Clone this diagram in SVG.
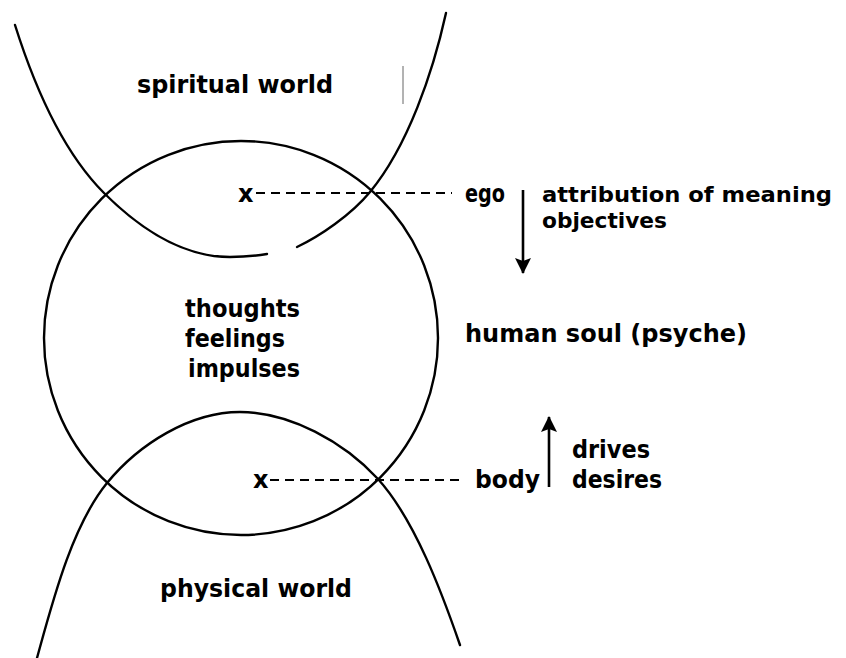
<svg xmlns="http://www.w3.org/2000/svg" width="846" height="658" viewBox="0 0 846 658">
<defs>
<style>
.curve{fill:none;stroke:#000;stroke-width:2.4;stroke-linecap:round}
.dash{fill:none;stroke:#000;stroke-width:2.2;stroke-dasharray:9 6}
.arrow{fill:none;stroke:#000;stroke-width:2.6}
text{font-family:"DejaVu Sans","Liberation Sans",sans-serif;font-weight:bold;fill:#000;font-size:24px}
.small{font-size:21px}
</style>
<marker id="head" viewBox="0 0 16 17" refX="15" refY="8.5" markerWidth="16" markerHeight="17" markerUnits="userSpaceOnUse" orient="auto">
<path d="M0,0.5 L16,8.5 L0,16.5 L3,8.5 Z" fill="#000"/>
</marker>
</defs>
<rect width="846" height="658" fill="#fff"/>

<g id="spiritual-world">
<path class="curve" d="M15,25 C33,82 62,151 104,193 C136,225 180,257 230,257 C245,257 255,256 267,254"/>
<path class="curve" d="M297,247 C320,236 351,215 370,192 C408,146 433,72 446,13"/>
<text x="137" y="93" textLength="196" lengthAdjust="spacingAndGlyphs">spiritual world</text>
</g>

<g id="human-soul">
<circle class="curve" cx="241" cy="338" r="197"/>
<text x="185" y="317" textLength="115" lengthAdjust="spacingAndGlyphs">thoughts</text>
<text x="185" y="347" textLength="100" lengthAdjust="spacingAndGlyphs">feelings</text>
<text x="188" y="377" textLength="112" lengthAdjust="spacingAndGlyphs">impulses</text>
<text x="465" y="342" textLength="282" lengthAdjust="spacingAndGlyphs">human soul (psyche)</text>
</g>

<g id="physical-world">
<path class="curve" d="M37,658 C53,600 72,526 107,483 C139,444 190,412 240,412 C290,412 344,442 378,479 C415,520 442,593 460,645"/>
<text x="160" y="597" textLength="192" lengthAdjust="spacingAndGlyphs">physical world</text>
</g>

<g id="ego">
<text x="238" y="202">x</text>
<text x="465" y="202" textLength="40" lengthAdjust="spacingAndGlyphs" font-size="23">ego</text>
<text class="small" x="542" y="202" textLength="290" lengthAdjust="spacingAndGlyphs">attribution of meaning</text>
<text class="small" x="542" y="228" textLength="125" lengthAdjust="spacingAndGlyphs">objectives</text>
</g>

<g id="body">
<text x="253" y="488">x</text>
<text x="475" y="488" textLength="65" lengthAdjust="spacingAndGlyphs">body</text>
<text x="572" y="458" textLength="78" lengthAdjust="spacingAndGlyphs">drives</text>
<text x="572" y="488" textLength="90" lengthAdjust="spacingAndGlyphs">desires</text>
</g>

<g id="connectors">
<line class="dash" x1="256" y1="193" x2="452" y2="193"/>
<line class="dash" x1="270" y1="480" x2="462" y2="480"/>
<line class="arrow" x1="523" y1="190" x2="523" y2="273" marker-end="url(#head)"/>
<line class="arrow" x1="549" y1="487" x2="549" y2="417" marker-end="url(#head)"/>
<line x1="403" y1="66" x2="403" y2="104" stroke="#666" stroke-width="1"/>
</g>
</svg>
